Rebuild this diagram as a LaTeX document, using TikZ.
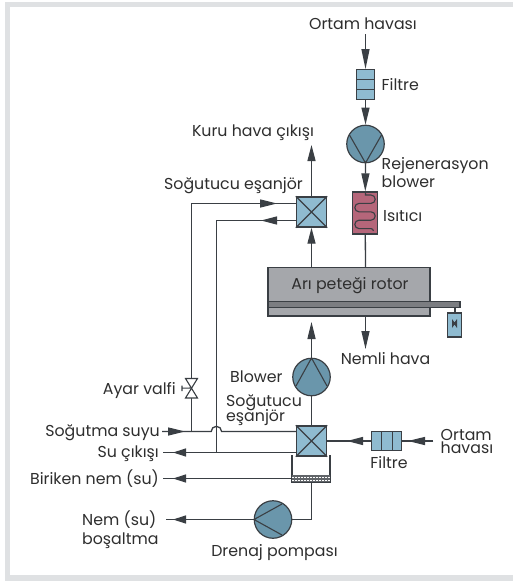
\documentclass[tikz,border=0pt]{standalone}
\usepackage{fontspec}
\setmainfont{Poppins}
\usetikzlibrary{arrows.meta}
\definecolor{lineC}{HTML}{3A3F44}
\definecolor{txtC}{HTML}{2E2E2E}
\definecolor{frameC}{HTML}{DFE1E3}
\definecolor{lblue}{HTML}{8FBBD0}
\definecolor{pumpC}{HTML}{6A96AB}
\definecolor{heatC}{HTML}{B5667A}
\definecolor{rotorC}{HTML}{A5A7AB}
\definecolor{shaftC}{HTML}{7B7D81}
\tikzset{
 wire/.style={draw=lineC,line width=1.3pt},
 flow/.style={wire,-{Triangle[length=#1,width=8pt]}},
 flow/.default=18pt,
 box/.style={draw=lineC,line width=1.3pt,fill=lblue},
 lab/.style={text=txtC,font=\fontsize{15.8}{13}\selectfont,inner sep=0pt,align=left},
 pumpshape/.style={circle,draw=lineC,line width=1.2pt,fill=pumpC,minimum size=37.5pt,inner sep=0pt},
 xbox/.style={rectangle,draw=lineC,line width=1.4pt,fill=lblue,minimum size=30pt,inner sep=0pt},
 inner/.style={draw=lineC,line width=1.1pt},
}
\begin{document}
\begin{tikzpicture}[x=1pt,y=-1pt]
\useasboundingbox (0,0) rectangle (512,581);
\fill[white] (0,0) rectangle (512,581);
\draw[frameC,line width=5.4pt] (7.7,4.5) rectangle (520,577.8);
% top chain
\coordinate (inTop) at (365.5,34);
\node[rectangle,box,minimum width=18.5pt,minimum height=30pt,inner sep=0pt] (filtA) at (365.5,84.7) {};
\draw[inner] (356.5,79.2) -- (374.5,79.2) (356.5,89.5) -- (374.5,89.5);
\node[pumpshape] (regen) at (365.5,144) {};
\draw[inner] (349.5,135) -- (365.5,163) -- (381.5,135);
\node[rectangle,draw=lineC,line width=1.3pt,fill=heatC,minimum width=25pt,minimum height=42pt,inner sep=0pt] (heat) at (365.3,213) {};
\draw[inner] (365.5,192) -- (365.5,195) -- (371,195) arc[start angle=-90,end angle=90,radius=4.2] -- (359,203.4) arc[start angle=270,end angle=90,radius=4.2] -- (371,211.8) arc[start angle=-90,end angle=90,radius=4.2] -- (359,220.2) arc[start angle=270,end angle=90,radius=4.2] -- (371,228.6) arc[start angle=-90,end angle=0,radius=2.4];
\node[rectangle,draw=lineC,line width=1.3pt,fill=rotorC,minimum width=162pt,minimum height=48.7pt,inner sep=0pt] (rotor) at (349,291.7) {};
\draw[draw=lineC,line width=1.3pt,fill=shaftC] (268,301.3) rectangle (460,307.3);
\node[rectangle,box,minimum width=14pt,minimum height=24pt,inner sep=0pt] (motor) at (454.5,325) {};
\draw[inner] (455,307.3) -- (455,313);
\fill[lineC] (452,319) -- (454.5,322.5) -- (457,319) -- (457,328) -- (454.5,324.5) -- (452,328) -- cycle;
% upper exchanger
\node[xbox] (hxA) at (311.5,212) {};
\draw[inner] (hxA.north west) -- (hxA.south east) (hxA.north east) -- (hxA.south west);
\coordinate (dryOut) at (311.5,145);
\coordinate (rotL) at (311.5,267);
\coordinate (rotR) at (365.5,316);
\coordinate (nemli) at (365.5,349);
\draw[flow=20pt] (inTop) -- (filtA.north);
\draw[flow=17pt] (filtA.south) -- (regen.north);
\draw[flow] (regen.south) -- (heat.north);
\draw[wire] (heat.south) -- (365.5,267);
\draw[flow] (rotR) -- (nemli);
\draw[flow=16pt] (hxA.north) -- (dryOut);
\draw[flow=16pt] (rotL) -- (hxA.south);
% blower
\node[pumpshape] (blow) at (311.5,377) {};
\draw[inner] (296,386) -- (311.5,358) -- (327,386);
\draw[flow=17pt] (blow.north) -- (311.5,322);
% lower exchanger
\node[xbox] (hxB) at (311.5,441) {};
\draw[inner] (hxB.north west) -- (hxB.south east) (hxB.north east) -- (hxB.south west);
\draw[wire] (hxB.north) -- (blow.south);
% cooling water
\coordinate (cwIn) at (162,431.5);
\draw[wire] (cwIn) -- (211.2,431.5) arc[start angle=180,end angle=360,radius=5.2] -- (296,431.5);
\draw[flow=17pt] (cwIn) -- (185,431.5);
\draw[wire] (191.5,431.5) -- (191.5,203.5) -- (296,203.5);
\draw[flow=17pt] (191.5,203.5) -- (277,203.5);
\draw[wire] (216.5,452.5) -- (216.5,220.5) -- (296,220.5);
\draw[flow=16pt] (296,220.5) -- (261,220.5);
\draw[wire] (296,452.5) -- (163,452.5);
\draw[flow=13pt] (216.5,452.5) -- (173,452.5);
% valve
\node[inner sep=0pt,minimum size=0pt] (valve) at (191.5,388) {};
\draw[inner,fill=white] (185.5,378.5) -- (197.5,378.5) -- (185.5,398) -- (197.5,398) -- cycle;
\draw[inner] (valve) -- (182,388.2) (182,385.5) -- (182,391);
% right filter
\node[rectangle,box,minimum width=30pt,minimum height=18.5pt,inner sep=0pt] (filtB) at (386.3,441) {};
\draw[inner] (381.7,432) -- (381.7,450) (392.3,432) -- (392.3,450);
\coordinate (airR) at (433,441);
\draw[wire] (airR) -- (filtB.east);
\draw[flow=17pt] (airR) -- (408,441);
\draw[wire] (filtB.west) -- (hxB.east);
\draw[flow=16pt] (filtB.west) -- (347,441);
% tray
\draw[inner] (292,455) -- (292,482) -- (330,482) -- (330,455);
\fill[lineC!80] (292,475.2) rectangle (330,482);
\draw[white,line width=0.4pt,dash pattern=on 2pt off 1pt] (292,477.5) -- (330,477.5) (292,480) -- (330,480);
\draw[wire] (292,478.5) -- (163,478.5);
\draw[flow=13pt] (292,478.5) -- (173,478.5);
% drain
\node[pumpshape] (drain) at (273,519.5) {};
\draw[inner] (282,504) -- (254,519.5) -- (282,535);
\draw[wire] (311.5,482) -- (311.5,519.5) -- (drain.east);
\draw[wire] (drain.west) -- (165.5,519.5);
\draw[flow=13pt] (drain.west) -- (173,519.5);
% text
\node[lab,anchor=base] (t1) at (363,29) {Ortam havası};
\node[lab,anchor=base west] (t2) at (381.5,90) {Filtre};
\node[lab,anchor=base west] (t3) at (381.5,169) {Rejenerasyon};
\node[lab,anchor=base west] (t4) at (381.5,187) {blower};
\node[lab,anchor=base west] (t5) at (383,221.5) {Isıtıcı};
\node[lab,anchor=base] (t6) at (253,136.5) {Kuru hava çıkışı};
\node[lab,anchor=base] (t7) at (233.5,189) {Soğutucu eşanjör};
\node[lab,anchor=base] (t8) at (350,289.5) {Arı peteği rotor};
\node[lab,anchor=base] (t9) at (385.5,364) {Nemli hava};
\node[lab,anchor=base west] (t10) at (230,382) {Blower};
\node[lab,anchor=base west] (t11) at (226,406) {Soğutucu};
\node[lab,anchor=base west] (t12) at (226,421) {eşanjör};
\node[lab,anchor=base east] (t13) at (176,394) {Ayar valfi};
\node[lab,anchor=base east] (t14) at (160,436) {Soğutma suyu};
\node[lab,anchor=base east] (t15) at (159,457) {Su çıkışı};
\node[lab,anchor=base east] (t16) at (159,484) {Biriken nem (su)};
\node[lab,anchor=base west] (t17) at (82,525) {Nem (su)};
\node[lab,anchor=base west] (t18) at (82,544) {boşaltma};
\node[lab,anchor=base] (t19) at (274.5,556) {Drenaj pompası};
\node[lab,anchor=base] (t20) at (389,468) {Filtre};
\node[lab,anchor=north west,text depth=0pt] (t21) at (440.5,429.5) {Ortam\\havası};
\end{tikzpicture}
\end{document}
